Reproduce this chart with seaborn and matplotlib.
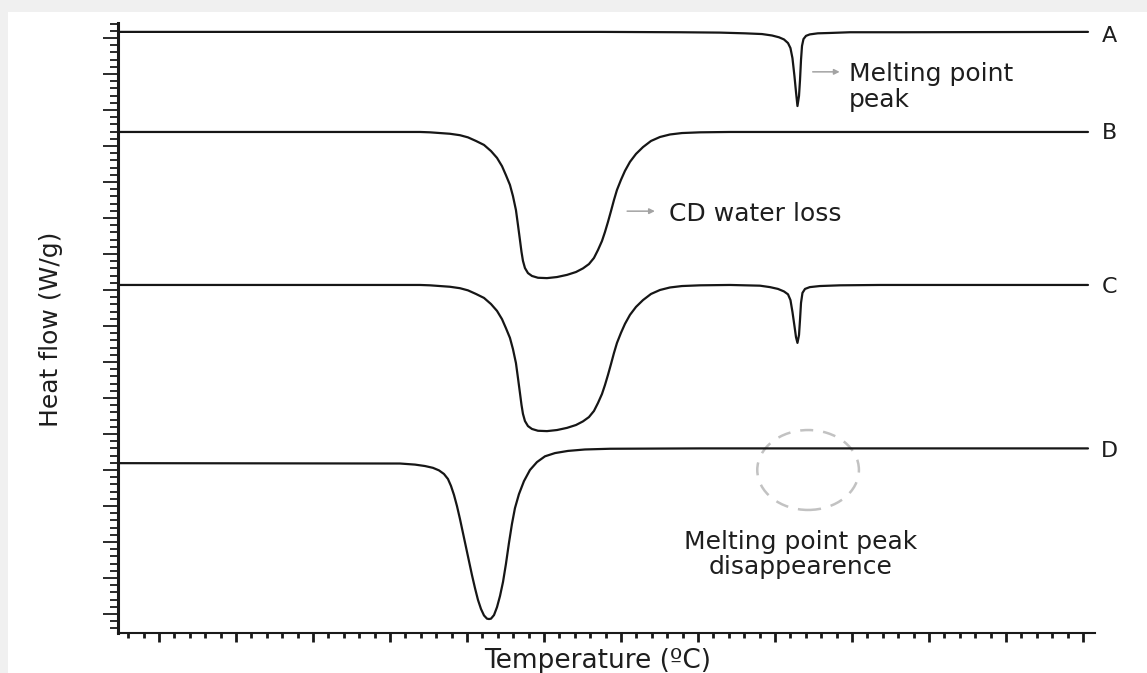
import matplotlib
matplotlib.use("Agg")
import matplotlib.pyplot as plt
from matplotlib.patches import Ellipse, Rectangle
from matplotlib.ticker import MultipleLocator
import pandas as pd
import seaborn as sns

# DSC thermograms: temperature (°C) and stacked heat flow (W/g, offset per sample)
temp_a = [14.68, 77.27, 87.66, 92.86, 96.10, 98.31, 99.61, 100.52, 101.17, 101.69, 102.01,
          102.27, 102.53, 102.73, 102.92, 103.12, 103.25, 103.38, 103.51, 103.70, 104.03,
          104.52, 105.56, 107.14, 109.74, 116.23, 140.65]
flow_a = [16.17, 16.17, 16.16, 16.15, 16.13, 16.11, 16.07, 16.02, 15.96, 15.86, 15.72,
          15.44, 14.94, 14.50, 14.11, 14.39, 14.83, 15.39, 15.78, 15.97, 16.06,
          16.10, 16.13, 16.14, 16.16, 16.16, 16.17]

temp_b = [14.68, 51.30, 53.90, 55.19, 56.49, 57.79, 59.09, 60.13, 61.17, 62.21, 63.12, 63.90,
          64.55, 65.06, 65.58, 65.97, 66.36, 66.62, 66.88, 67.08, 67.27, 67.53, 67.92, 68.44,
          69.22, 70.39, 71.69, 72.99, 74.16, 75.06, 75.84, 76.49, 77.01, 77.53, 77.92, 78.31,
          78.70, 79.09, 79.48, 80.00, 80.52, 81.17, 81.95, 82.86, 83.90, 85.06, 86.36, 87.92,
          90.26, 94.16, 98.05, 140.65]
flow_b = [13.39, 13.39, 13.39, 13.38, 13.36, 13.34, 13.30, 13.24, 13.14, 13.03, 12.86, 12.67,
          12.44, 12.19, 11.92, 11.61, 11.22, 10.81, 10.39, 10.06, 9.81, 9.61, 9.47, 9.39,
          9.34, 9.33, 9.36, 9.42, 9.50, 9.60, 9.72, 9.89, 10.11, 10.36, 10.61, 10.89,
          11.19, 11.50, 11.78, 12.06, 12.31, 12.56, 12.78, 12.97, 13.14, 13.25, 13.32, 13.36,
          13.38, 13.39, 13.39, 13.39]

temp_c = [14.68, 51.30, 53.90, 55.19, 56.49, 57.79, 59.09, 60.13, 61.17, 62.21, 63.12, 63.90,
          64.55, 65.06, 65.58, 65.97, 66.36, 66.62, 66.88, 67.08, 67.27, 67.53, 67.92, 68.44,
          69.22, 70.39, 71.69, 72.99, 74.16, 75.06, 75.84, 76.49, 77.01, 77.53, 77.92, 78.31,
          78.70, 79.09, 79.48, 80.00, 80.52, 81.17, 81.95, 82.86, 83.90, 85.06, 86.36, 87.92,
          90.26, 94.16, 96.10, 98.05, 99.35, 100.39, 101.17, 101.69, 102.01, 102.27, 102.53,
          102.73, 102.92, 103.12, 103.25, 103.38, 103.57, 103.90, 104.52, 105.82, 108.44,
          113.64, 140.65]
flow_c = [9.14, 9.14, 9.14, 9.13, 9.11, 9.09, 9.05, 8.99, 8.89, 8.78, 8.61, 8.42,
          8.19, 7.94, 7.67, 7.36, 6.97, 6.56, 6.14, 5.81, 5.56, 5.36, 5.22, 5.14,
          5.09, 5.08, 5.11, 5.17, 5.25, 5.35, 5.47, 5.64, 5.86, 6.11, 6.36, 6.64,
          6.94, 7.25, 7.53, 7.81, 8.06, 8.31, 8.53, 8.72, 8.89, 9.00, 9.07, 9.11,
          9.13, 9.14, 9.13, 9.12, 9.08, 9.03, 8.96, 8.88, 8.72, 8.39, 8.00,
          7.69, 7.53, 7.75, 8.17, 8.64, 8.92, 9.03, 9.08, 9.11, 9.13,
          9.14, 9.14]

temp_d = [14.68, 51.30, 53.25, 54.55, 55.58, 56.36, 57.01, 57.53, 57.92, 58.31, 58.70, 59.09,
          59.48, 59.87, 60.26, 60.65, 61.04, 61.43, 61.82, 62.21, 62.60, 62.86, 63.12, 63.51,
          63.90, 64.29, 64.68, 65.06, 65.45, 65.84, 66.23, 66.75, 67.40, 68.18, 69.09, 70.13,
          71.43, 73.12, 75.32, 78.57, 90.26, 140.65]
flow_d = [4.19, 4.18, 4.15, 4.11, 4.06, 3.99, 3.89, 3.75, 3.56, 3.31, 3.00, 2.64,
          2.25, 1.86, 1.47, 1.08, 0.72, 0.39, 0.14, -0.04, -0.13, -0.14, -0.13, -0.03,
          0.19, 0.50, 0.89, 1.39, 1.97, 2.50, 2.94, 3.33, 3.69, 4.00, 4.22, 4.38,
          4.47, 4.53, 4.57, 4.59, 4.60, 4.60]

samples = ["A", "B", "C", "D"]
label_flow = [16.11, 13.42, 9.14, 4.58]   # heat-flow level of each sample letter

sns.set_theme(style="white")
plt.rcParams["font.family"] = ["DejaVu Sans"]

W, H = 1147, 673
fig = plt.figure(figsize=(W / 100, H / 100), dpi=100, facecolor="#f0f0f0")
fig.add_artist(Rectangle((8 / W, 0), 1 - 8 / W, 661 / H, transform=fig.transFigure,
                         facecolor="white", edgecolor="none", zorder=-10))

ax = fig.add_axes([118 / W, 40 / H, 977 / W, 609.5 / H])
ax.set_facecolor("white")

frames = []
for name, t, f in zip(samples, [temp_a, temp_b, temp_c, temp_d],
                      [flow_a, flow_b, flow_c, flow_d]):
    frames.append(pd.DataFrame({"temperature": t, "heat_flow": f, "sample": name}))
df = pd.concat(frames, ignore_index=True)

line_color = "#161616"
sns.lineplot(data=df, x="temperature", y="heat_flow", units="sample", estimator=None,
             sort=False, color=line_color, linewidth=1.6, ax=ax)
for ln in ax.lines:
    ln.set_solid_joinstyle("round")
    ln.set_solid_capstyle("round")

ax.set_xlim(14.68, 141.56)
ax.set_ylim(-0.528, 16.403)

# axes: ticks without labels, minor subdivisions
ax.xaxis.set_major_locator(MultipleLocator(10))
ax.xaxis.set_minor_locator(MultipleLocator(2))
ax.yaxis.set_major_locator(MultipleLocator(1))
ax.yaxis.set_minor_locator(MultipleLocator(0.2))
ax.tick_params(labelbottom=False, labelleft=False, bottom=True, left=True)
ax.tick_params(axis="x", which="major", direction="out", length=6.5, width=2.0, color="#1a1a1a")
ax.tick_params(axis="x", which="minor", direction="out", length=3.5, width=2.0, color="#1a1a1a",
               bottom=True)
ax.tick_params(axis="y", which="major", direction="out", length=10.8, width=1.3, color="#1a1a1a")
ax.tick_params(axis="y", which="minor", direction="out", length=5.8, width=1.3, color="#1a1a1a",
               left=True)
for side in ("top", "right"):
    ax.spines[side].set_visible(False)
ax.spines["left"].set_linewidth(2.2)
ax.spines["bottom"].set_linewidth(1.5)
ax.spines["left"].set_color("#1a1a1a")
ax.spines["bottom"].set_color("#1a1a1a")
ax.grid(False)

text_color = "#1e1e1e"
ax.set_xlabel("Temperature (ºC)", fontsize=19, color=text_color)
ax.xaxis.set_label_coords(0.491, -0.024)
ax.xaxis.label.set_va("top")
ax.set_ylabel("Heat flow (W/g)", fontsize=18, color=text_color,
              family=["Liberation Sans Narrow", "DejaVu Sans Condensed", "DejaVu Sans"])
ax.yaxis.set_label_coords(-0.056, 0.499)

# sample letters at the right end of each trace
for name, lvl in zip(samples, label_flow):
    ax.text(143.4, lvl, name, ha="center", va="center_baseline", fontsize=16,
            color=text_color, clip_on=False)

arrow_kw = dict(arrowstyle="-|>", color="#a3a3a3", lw=1.1, mutation_scale=8,
                shrinkA=0, shrinkB=0)

# melting endotherm of the guest
ax.annotate("", xy=(108.4, 15.06), xytext=(104.9, 15.06), arrowprops=arrow_kw)
ax.text(109.6, 15.32, "Melting point\npeak", ha="left", va="top", fontsize=18,
        color=text_color, linespacing=1.1)

# cyclodextrin dehydration
ax.annotate("", xy=(84.4, 11.19), xytext=(80.8, 11.19), arrowprops=arrow_kw)
ax.text(86.2, 11.19, "CD water loss", ha="left", va="center_baseline", fontsize=18,
        color=text_color)

# missing melting peak in the inclusion complex
ax.add_patch(Ellipse((104.3, 4.0), width=13.2, height=2.22, fill=False,
                     edgecolor="#c2c2c2", lw=1.8, linestyle=(0, (5.2, 4.0))))
ax.text(103.3, 1.66, "Melting point peak\ndisappearence", ha="center", va="center",
        multialignment="center", fontsize=18, color=text_color, linespacing=1.05)

fig.savefig("out.png", dpi=100, facecolor=fig.get_facecolor())
